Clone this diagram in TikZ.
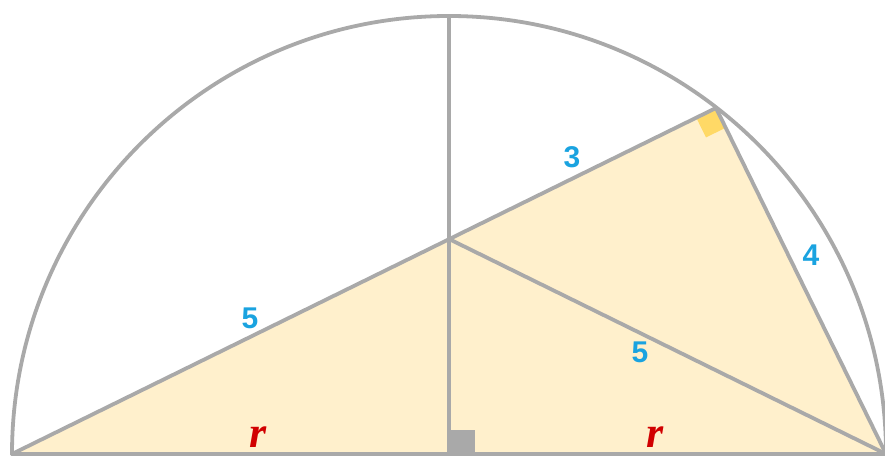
\documentclass[tikz,border=0pt]{standalone}
\usepackage{fontspec}
\setmainfont{Liberation Sans}
\newfontfamily\rfont{Liberation Serif}
\usetikzlibrary{calc}
\definecolor{linegray}{HTML}{A9A9A9}
\definecolor{fillbeige}{HTML}{FFF0CC}
\definecolor{markyellow}{HTML}{FFD966}
\definecolor{numblue}{HTML}{1AA3E0}
\definecolor{rred}{HTML}{D10000}
\tikzset{
  edge/.style={draw=linegray, line width=3.8pt, line cap=round, line join=round},
  num/.style={text=numblue, font=\fontsize{30}{30}\selectfont\bfseries, inner sep=0pt},
  rlab/.style={text=rred, font=\rfont\fontsize{44}{44}\selectfont\bfseries\itshape, inner sep=0pt}
}
\begin{document}
\begin{tikzpicture}[x=1pt,y=1pt]
\useasboundingbox (0,0) rectangle (885,457);
\coordinate (O) at (449,3);
\coordinate (A) at (12,3);
\coordinate (B) at (886,3);
\coordinate (T) at (449,441);
\coordinate (Q) at (716,349);
\coordinate (P) at (449,218);
% fill
\fill[fillbeige] (A) -- (Q) -- (B) -- cycle;
% right angle at Q
\fill[markyellow] (Q) -- ($(Q)!22pt!(A)$) -- ($($(Q)!22pt!(A)$)+($(Q)!22pt!(B)$)-(Q)$) -- ($(Q)!22pt!(B)$) -- cycle;
% right angle at O
\fill[linegray] (O) rectangle (475,27);
% lines
\draw[edge] (B) arc[start angle=0, end angle=180, x radius=437pt, y radius=438pt];
\draw[edge] (A) -- (B);
\draw[edge] (O) -- (T);
\draw[edge] (A) -- (Q);
\draw[edge] (Q) -- (B);
\draw[edge] (P) -- (B);
% labels
\node[num] (l5a) at (250,139) {5};
\node[num] (l3) at (572,300) {3};
\node[num] (l4) at (811,202) {4};
\node[num] (l5b) at (640,105) {5};
\node[rlab] (ra) at (258,20) {r};
\node[rlab] (rb) at (655,20) {r};
\end{tikzpicture}
\end{document}
